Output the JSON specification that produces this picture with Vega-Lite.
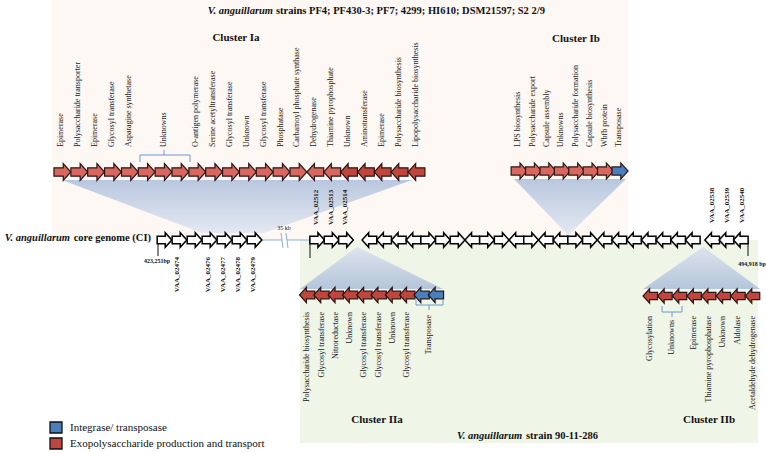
{
  "$schema": "https://vega.github.io/schema/vega-lite/v6.json",
  "width": 766,
  "height": 453,
  "padding": 0,
  "autosize": {"type": "fit", "contains": "padding"},
  "background": "white",
  "config": {"view": {"stroke": null}},
  "datasets": {
    "panels": [
      {"panel": "top", "x": 52, "x2": 628, "y": 0, "y2": 240},
      {"panel": "bottom", "x": 300, "x2": 758, "y": 240, "y2": 443}
    ],
    "funnels": [
      {"poly": "Ia", "dir": "down", "y": 180, "x": 62, "x2": 412},
      {"poly": "Ia", "dir": "down", "y": 233, "x": 202, "x2": 264},
      {"poly": "Ib", "dir": "down", "y": 179, "x": 514, "x2": 626},
      {"poly": "Ib", "dir": "down", "y": 235, "x": 568, "x2": 568.5},
      {"poly": "IIa", "dir": "up", "y": 247, "x": 357, "x2": 357.5},
      {"poly": "IIa", "dir": "up", "y": 289, "x": 300, "x2": 443},
      {"poly": "IIb", "dir": "up", "y": 247, "x": 703, "x2": 703.5},
      {"poly": "IIb", "dir": "up", "y": 289, "x": 643, "x2": 760}
    ],
    "lines": [
      {"kind": "bracket", "x": 140, "x2": 190, "y": 155, "y2": 155},
      {"kind": "bracket", "x": 140, "x2": 140, "y": 155, "y2": 162},
      {"kind": "bracket", "x": 190, "x2": 190, "y": 155, "y2": 162},
      {"kind": "bracket", "x": 164, "x2": 164, "y": 150, "y2": 155},
      {"kind": "bracket", "x": 416, "x2": 443, "y": 305, "y2": 305},
      {"kind": "bracket", "x": 416, "x2": 416, "y": 300, "y2": 305},
      {"kind": "bracket", "x": 443, "x2": 443, "y": 300, "y2": 305},
      {"kind": "bracket", "x": 429, "x2": 429, "y": 305, "y2": 310},
      {"kind": "bracket", "x": 662, "x2": 682, "y": 312, "y2": 312},
      {"kind": "bracket", "x": 662, "x2": 662, "y": 306, "y2": 312},
      {"kind": "bracket", "x": 682, "x2": 682, "y": 306, "y2": 312},
      {"kind": "bracket", "x": 672, "x2": 672, "y": 312, "y2": 317},
      {"kind": "break", "x": 262, "x2": 282, "y": 240, "y2": 240},
      {"kind": "break", "x": 287, "x2": 310, "y": 240, "y2": 240},
      {"kind": "break", "x": 281, "x2": 283, "y": 233, "y2": 248},
      {"kind": "break", "x": 286, "x2": 288, "y": 233, "y2": 248},
      {"kind": "tick", "x": 158, "x2": 158, "y": 240, "y2": 256},
      {"kind": "tick", "x": 310, "x2": 310, "y": 240, "y2": 258},
      {"kind": "tick", "x": 748, "x2": 748, "y": 240, "y2": 256}
    ],
    "genes": [
      {"track": "Ia", "x": 62.4, "y": 172, "dir": "R", "type": "light"},
      {"track": "Ia", "x": 79.3, "y": 172, "dir": "R", "type": "light"},
      {"track": "Ia", "x": 96.1, "y": 172, "dir": "R", "type": "light"},
      {"track": "Ia", "x": 113.0, "y": 172, "dir": "R", "type": "light"},
      {"track": "Ia", "x": 129.9, "y": 172, "dir": "R", "type": "light"},
      {"track": "Ia", "x": 146.7, "y": 172, "dir": "R", "type": "light"},
      {"track": "Ia", "x": 163.6, "y": 172, "dir": "R", "type": "light"},
      {"track": "Ia", "x": 180.4, "y": 172, "dir": "R", "type": "light"},
      {"track": "Ia", "x": 197.3, "y": 172, "dir": "R", "type": "light"},
      {"track": "Ia", "x": 214.1, "y": 172, "dir": "R", "type": "light"},
      {"track": "Ia", "x": 231.0, "y": 172, "dir": "R", "type": "light"},
      {"track": "Ia", "x": 247.9, "y": 172, "dir": "R", "type": "light"},
      {"track": "Ia", "x": 264.7, "y": 172, "dir": "R", "type": "light"},
      {"track": "Ia", "x": 281.6, "y": 172, "dir": "R", "type": "light"},
      {"track": "Ia", "x": 298.4, "y": 172, "dir": "R", "type": "light"},
      {"track": "Ia", "x": 315.3, "y": 172, "dir": "L", "type": "light"},
      {"track": "Ia", "x": 332.2, "y": 172, "dir": "L", "type": "light"},
      {"track": "Ia", "x": 349.0, "y": 172, "dir": "L", "type": "dark"},
      {"track": "Ia", "x": 365.9, "y": 172, "dir": "L", "type": "dark"},
      {"track": "Ia", "x": 382.7, "y": 172, "dir": "L", "type": "dark"},
      {"track": "Ia", "x": 399.6, "y": 172, "dir": "L", "type": "dark"},
      {"track": "Ia", "x": 416.5, "y": 172, "dir": "L", "type": "dark"},
      {"track": "Ib", "x": 519.2, "y": 171, "dir": "R", "type": "light"},
      {"track": "Ib", "x": 533.6, "y": 171, "dir": "R", "type": "light"},
      {"track": "Ib", "x": 548.0, "y": 171, "dir": "R", "type": "light"},
      {"track": "Ib", "x": 562.4, "y": 171, "dir": "R", "type": "light"},
      {"track": "Ib", "x": 576.8, "y": 171, "dir": "R", "type": "light"},
      {"track": "Ib", "x": 591.2, "y": 171, "dir": "R", "type": "light"},
      {"track": "Ib", "x": 605.6, "y": 171, "dir": "R", "type": "light"},
      {"track": "Ib", "x": 620.0, "y": 171, "dir": "R", "type": "blue"},
      {"track": "core", "x": 164.5, "y": 240, "dir": "R", "type": "core"},
      {"track": "core", "x": 179.5, "y": 240, "dir": "R", "type": "core"},
      {"track": "core", "x": 194.5, "y": 240, "dir": "R", "type": "core"},
      {"track": "core", "x": 209.5, "y": 240, "dir": "R", "type": "core"},
      {"track": "core", "x": 224.5, "y": 240, "dir": "R", "type": "core"},
      {"track": "core", "x": 239.5, "y": 240, "dir": "R", "type": "core"},
      {"track": "core", "x": 254.5, "y": 240, "dir": "R", "type": "core"},
      {"track": "core", "x": 317.2, "y": 240, "dir": "R", "type": "core"},
      {"track": "core", "x": 331.6, "y": 240, "dir": "R", "type": "core"},
      {"track": "core", "x": 346.0, "y": 240, "dir": "R", "type": "core"},
      {"track": "core", "x": 369.4, "y": 240, "dir": "L", "type": "core"},
      {"track": "core", "x": 384.1, "y": 240, "dir": "L", "type": "core"},
      {"track": "core", "x": 398.8, "y": 240, "dir": "L", "type": "core"},
      {"track": "core", "x": 413.5, "y": 240, "dir": "L", "type": "core"},
      {"track": "core", "x": 428.2, "y": 240, "dir": "R", "type": "core"},
      {"track": "core", "x": 442.9, "y": 240, "dir": "R", "type": "core"},
      {"track": "core", "x": 457.6, "y": 240, "dir": "R", "type": "core"},
      {"track": "core", "x": 472.3, "y": 240, "dir": "L", "type": "core"},
      {"track": "core", "x": 487.0, "y": 240, "dir": "R", "type": "core"},
      {"track": "core", "x": 501.7, "y": 240, "dir": "R", "type": "core"},
      {"track": "core", "x": 516.4, "y": 240, "dir": "L", "type": "core"},
      {"track": "core", "x": 531.1, "y": 240, "dir": "R", "type": "core"},
      {"track": "core", "x": 545.8, "y": 240, "dir": "L", "type": "core"},
      {"track": "core", "x": 560.5, "y": 240, "dir": "L", "type": "core"},
      {"track": "core", "x": 575.2, "y": 240, "dir": "R", "type": "core"},
      {"track": "core", "x": 589.9, "y": 240, "dir": "R", "type": "core"},
      {"track": "core", "x": 604.6, "y": 240, "dir": "L", "type": "core"},
      {"track": "core", "x": 619.3, "y": 240, "dir": "L", "type": "core"},
      {"track": "core", "x": 634.0, "y": 240, "dir": "L", "type": "core"},
      {"track": "core", "x": 648.7, "y": 240, "dir": "L", "type": "core"},
      {"track": "core", "x": 663.4, "y": 240, "dir": "L", "type": "core"},
      {"track": "core", "x": 678.1, "y": 240, "dir": "L", "type": "core"},
      {"track": "core", "x": 692.8, "y": 240, "dir": "L", "type": "core"},
      {"track": "core", "x": 712.2, "y": 240, "dir": "L", "type": "core"},
      {"track": "core", "x": 726.5, "y": 240, "dir": "L", "type": "core"},
      {"track": "core", "x": 740.8, "y": 240, "dir": "L", "type": "core"},
      {"track": "IIa", "x": 307.2, "y": 295, "dir": "L", "type": "dark"},
      {"track": "IIa", "x": 321.5, "y": 295, "dir": "L", "type": "dark"},
      {"track": "IIa", "x": 335.8, "y": 295, "dir": "L", "type": "dark"},
      {"track": "IIa", "x": 350.1, "y": 295, "dir": "L", "type": "dark"},
      {"track": "IIa", "x": 364.4, "y": 295, "dir": "L", "type": "dark"},
      {"track": "IIa", "x": 378.7, "y": 295, "dir": "L", "type": "dark"},
      {"track": "IIa", "x": 393.0, "y": 295, "dir": "L", "type": "dark"},
      {"track": "IIa", "x": 407.3, "y": 295, "dir": "L", "type": "dark"},
      {"track": "IIa", "x": 421.6, "y": 295, "dir": "L", "type": "blue"},
      {"track": "IIa", "x": 435.9, "y": 295, "dir": "L", "type": "blue"},
      {"track": "IIb", "x": 650.3, "y": 296, "dir": "L", "type": "dark"},
      {"track": "IIb", "x": 664.9, "y": 296, "dir": "L", "type": "dark"},
      {"track": "IIb", "x": 679.5, "y": 296, "dir": "L", "type": "dark"},
      {"track": "IIb", "x": 694.1, "y": 296, "dir": "L", "type": "dark"},
      {"track": "IIb", "x": 708.7, "y": 296, "dir": "L", "type": "dark"},
      {"track": "IIb", "x": 723.3, "y": 296, "dir": "L", "type": "dark"},
      {"track": "IIb", "x": 737.9, "y": 296, "dir": "L", "type": "dark"},
      {"track": "IIb", "x": 752.5, "y": 296, "dir": "L", "type": "dark"}
    ],
    "legendboxes": [
      {"x": 50, "x2": 62, "y": 422, "y2": 433, "type": "blue"},
      {"x": 50, "x2": 62, "y": 438, "y2": 449, "type": "dark"}
    ],
    "labels": [
      {"pos": "up", "x": 61.4, "y": 147, "label": "Epimerase"},
      {"pos": "up", "x": 78.3, "y": 147, "label": "Polysaccharide transporter"},
      {"pos": "up", "x": 95.1, "y": 147, "label": "Epimerase"},
      {"pos": "up", "x": 112.0, "y": 147, "label": "Glycosyl transferase"},
      {"pos": "up", "x": 128.9, "y": 147, "label": "Asparagine synthetase"},
      {"pos": "up", "x": 163.6, "y": 147, "label": "Unknowns"},
      {"pos": "up", "x": 196.3, "y": 147, "label": "O-antigen polymerase"},
      {"pos": "up", "x": 213.1, "y": 147, "label": "Serine acetyltransferase"},
      {"pos": "up", "x": 230.0, "y": 147, "label": "Glycosyl transferase"},
      {"pos": "up", "x": 246.9, "y": 147, "label": "Unknown"},
      {"pos": "up", "x": 263.7, "y": 147, "label": "Glycosyl transferase"},
      {"pos": "up", "x": 280.6, "y": 147, "label": "Phosphatase"},
      {"pos": "up", "x": 297.4, "y": 147, "label": "Carbamoyl phosphate synthase"},
      {"pos": "up", "x": 314.3, "y": 147, "label": "Dehydrogenase"},
      {"pos": "up", "x": 331.2, "y": 147, "label": "Thiamine pyrophosphate"},
      {"pos": "up", "x": 348.0, "y": 147, "label": "Unknown"},
      {"pos": "up", "x": 364.9, "y": 147, "label": "Aminotransferase"},
      {"pos": "up", "x": 381.7, "y": 147, "label": "Epimerase"},
      {"pos": "up", "x": 398.6, "y": 147, "label": "Polysaccharide biosynthesis"},
      {"pos": "up", "x": 415.5, "y": 147, "label": "Lipopolysaccharide biosynthesis"},
      {"pos": "up", "x": 518.2, "y": 147, "label": "LPS biosynthesis"},
      {"pos": "up", "x": 532.6, "y": 147, "label": "Polysaccharide export"},
      {"pos": "up", "x": 547.0, "y": 147, "label": "Capsule assembly"},
      {"pos": "up", "x": 561.4, "y": 147, "label": "Unknowns"},
      {"pos": "up", "x": 575.8, "y": 147, "label": "Polysaccharide formation"},
      {"pos": "up", "x": 590.2, "y": 147, "label": "Capsule biosynthesis"},
      {"pos": "up", "x": 604.6, "y": 147, "label": "Wbfb protein"},
      {"pos": "up", "x": 619.0, "y": 147, "label": "Transposase"},
      {"pos": "down", "x": 307.2, "y": 312, "label": "Polysaccharide biosynthesis"},
      {"pos": "down", "x": 321.5, "y": 312, "label": "Glycosyl transferase"},
      {"pos": "down", "x": 335.8, "y": 312, "label": "Nitroreductase"},
      {"pos": "down", "x": 350.1, "y": 312, "label": "Unknown"},
      {"pos": "down", "x": 364.4, "y": 312, "label": "Glycosyl transferase"},
      {"pos": "down", "x": 378.7, "y": 312, "label": "Glycosyl transferase"},
      {"pos": "down", "x": 393.0, "y": 312, "label": "Unknown"},
      {"pos": "down", "x": 407.3, "y": 312, "label": "Glycosyl transferase"},
      {"pos": "down", "x": 429.0, "y": 315, "label": "Transposase"},
      {"pos": "down", "x": 650.3, "y": 316, "label": "Glycosylation"},
      {"pos": "down", "x": 672.2, "y": 320, "label": "Unknowns"},
      {"pos": "down", "x": 694.1, "y": 316, "label": "Epimerase"},
      {"pos": "down", "x": 708.7, "y": 316, "label": "Thiamine pyrophosphatase"},
      {"pos": "down", "x": 723.3, "y": 316, "label": "Unknown"},
      {"pos": "down", "x": 737.9, "y": 316, "label": "Aldolase"},
      {"pos": "down", "x": 752.5, "y": 316, "label": "Acetaldehyde dehydrogenase"},
      {"pos": "vaaup", "x": 316.2, "y": 225, "label": "VAA_02512"},
      {"pos": "vaaup", "x": 330.6, "y": 225, "label": "VAA_02513"},
      {"pos": "vaaup", "x": 345.0, "y": 225, "label": "VAA_02514"},
      {"pos": "vaaup", "x": 712.0, "y": 223, "label": "VAA_02538"},
      {"pos": "vaaup", "x": 727.0, "y": 223, "label": "VAA_02539"},
      {"pos": "vaaup", "x": 741.5, "y": 223, "label": "VAA_02540"},
      {"pos": "vaadown", "x": 177.0, "y": 257, "label": "VAA_02474"},
      {"pos": "vaadown", "x": 207.5, "y": 257, "label": "VAA_02476"},
      {"pos": "vaadown", "x": 222.5, "y": 257, "label": "VAA_02477"},
      {"pos": "vaadown", "x": 237.5, "y": 257, "label": "VAA_02478"},
      {"pos": "vaadown", "x": 252.5, "y": 257, "label": "VAA_02479"}
    ],
    "texts": [
      {"style": "title_it", "x": 273, "y": 11, "text": "V. anguillarum"},
      {"style": "title", "x": 276, "y": 11, "text": "strains PF4; PF430-3; PF7; 4299; HI610; DSM21597; S2 2/9"},
      {"style": "head", "x": 236, "y": 38, "text": "Cluster Ia"},
      {"style": "head", "x": 576, "y": 39, "text": "Cluster Ib"},
      {"style": "head", "x": 377, "y": 420, "text": "Cluster IIa"},
      {"style": "head", "x": 709, "y": 420, "text": "Cluster IIb"},
      {"style": "title_it", "x": 70, "y": 238, "text": "V. anguillarum"},
      {"style": "right", "x": 151, "y": 238, "text": "core genome (CI)"},
      {"style": "left_it", "x": 457, "y": 436, "text": "V. anguillarum"},
      {"style": "left", "x": 526, "y": 436, "text": "strain 90-11-286"},
      {"style": "bp", "x": 157, "y": 261, "text": "423,251bp"},
      {"style": "bp", "x": 752, "y": 264, "text": "494,918 bp"},
      {"style": "small", "x": 284, "y": 228, "text": "35 kb"},
      {"style": "legend", "x": 70, "y": 428, "text": "Integrase/ transposase"},
      {"style": "legend", "x": 70, "y": 444, "text": "Exopolysaccharide production and transport"}
    ]
  },
  "encoding": {
    "x": {"field": "x", "type": "quantitative", "scale": {"domain": [0, 766], "nice": false, "zero": false}, "axis": null},
    "y": {"field": "y", "type": "quantitative", "scale": {"domain": [0, 453], "reverse": true, "nice": false, "zero": false}, "axis": null}
  },
  "layer": [
    {
      "data": {"name": "panels"},
      "transform": [{"filter": "datum.panel === 'top'"}],
      "mark": {"type": "rect", "fill": "#fdf8f3"},
      "encoding": {"x2": {"field": "x2"}, "y2": {"field": "y2"}}
    },
    {
      "data": {"name": "panels"},
      "transform": [{"filter": "datum.panel === 'bottom'"}],
      "mark": {"type": "rect", "fill": "#eff5e7"},
      "encoding": {"x2": {"field": "x2"}, "y2": {"field": "y2"}}
    },
    {
      "data": {"name": "funnels"},
      "transform": [{"filter": "datum.dir === 'down'"}],
      "mark": {
        "type": "area",
        "orient": "horizontal",
        "fill": {"gradient": "linear", "x1": 0, "y1": 0, "x2": 0, "y2": 1,
          "stops": [{"offset": 0, "color": "#b9c7de"}, {"offset": 1, "color": "#e4e9f2"}]}
      },
      "encoding": {"x2": {"field": "x2"}, "detail": {"field": "poly"}}
    },
    {
      "data": {"name": "funnels"},
      "transform": [{"filter": "datum.dir === 'up'"}],
      "mark": {
        "type": "area",
        "orient": "horizontal",
        "fill": {"gradient": "linear", "x1": 0, "y1": 0, "x2": 0, "y2": 1,
          "stops": [{"offset": 0, "color": "#dde4ee"}, {"offset": 1, "color": "#b5c5da"}]}
      },
      "encoding": {"x2": {"field": "x2"}, "detail": {"field": "poly"}}
    },
    {
      "data": {"name": "lines"},
      "mark": {"type": "rule", "strokeWidth": 1},
      "encoding": {
        "x2": {"field": "x2"},
        "y2": {"field": "y2"},
        "stroke": {"field": "kind", "type": "nominal", "scale": {"domain": ["bracket", "break", "tick"], "range": ["#6d98cf", "#8bb0da", "#111111"]}, "legend": null}
      }
    },
    {
      "data": {"name": "genes"},
      "transform": [{"filter": "datum.track === 'core'"}],
      "mark": {"type": "point", "filled": true, "opacity": 1, "stroke": "#000000", "strokeWidth": 1.5, "size": 215},
      "encoding": {
        "shape": {"field": "dir", "type": "nominal", "scale": {"domain": ["R", "L"], "range": ["M-1,-0.5L0.1,-0.5L0.1,-1L1,0L0.1,1L0.1,0.5L-1,0.5Z", "M1,-0.5L-0.1,-0.5L-0.1,-1L-1,0L-0.1,1L-0.1,0.5L1,0.5Z"]}, "legend": null},
        "fill": {"field": "type", "type": "nominal", "scale": {"domain": ["light", "dark", "blue", "core"], "range": ["#d7675f", "#c0453d", "#4a7fbd", "#ffffff"]}, "legend": null}
      }
    },
    {
      "data": {"name": "genes"},
      "transform": [{"filter": "datum.track !== 'core'"}],
      "mark": {"type": "point", "filled": true, "opacity": 1, "stroke": "#2a1616", "strokeWidth": 1.2},
      "encoding": {
        "shape": {"field": "dir", "type": "nominal", "scale": {"domain": ["R", "L"], "range": ["M-1,-0.5L0.1,-0.5L0.1,-1L1,0L0.1,1L0.1,0.5L-1,0.5Z", "M1,-0.5L-0.1,-0.5L-0.1,-1L-1,0L-0.1,1L-0.1,0.5L1,0.5Z"]}, "legend": null},
        "fill": {"field": "type", "type": "nominal", "scale": {"domain": ["light", "dark", "blue", "core"], "range": ["#d7675f", "#c0453d", "#4a7fbd", "#ffffff"]}, "legend": null},
        "size": {"field": "track", "type": "ordinal", "scale": {"domain": ["Ia", "Ib", "IIa", "IIb"], "range": [284, 210, 204, 212]}, "legend": null}
      }
    },
    {
      "data": {"name": "legendboxes"},
      "mark": {"type": "rect", "stroke": "#111111", "strokeWidth": 1.3},
      "encoding": {
        "x2": {"field": "x2"},
        "y2": {"field": "y2"},
        "fill": {"field": "type", "type": "nominal", "scale": {"domain": ["light", "dark", "blue", "core"], "range": ["#d7675f", "#c0453d", "#4a7fbd", "#ffffff"]}, "legend": null}
      }
    },
    {
      "data": {"name": "labels"},
      "transform": [{"filter": "datum.pos === 'up'"}],
      "mark": {"type": "text", "angle": 270, "align": "left", "baseline": "middle", "font": "Liberation Serif", "fontSize": 8, "color": "#1a1a1a"},
      "encoding": {"text": {"field": "label"}}
    },
    {
      "data": {"name": "labels"},
      "transform": [{"filter": "datum.pos === 'down'"}],
      "mark": {"type": "text", "angle": 270, "align": "right", "baseline": "middle", "font": "Liberation Serif", "fontSize": 8, "color": "#1a1a1a"},
      "encoding": {"text": {"field": "label"}}
    },
    {
      "data": {"name": "labels"},
      "transform": [{"filter": "datum.pos === 'vaaup'"}],
      "mark": {"type": "text", "angle": 270, "align": "left", "baseline": "middle", "font": "Liberation Serif", "fontSize": 7, "fontWeight": "bold", "color": "#111111"},
      "encoding": {"text": {"field": "label"}}
    },
    {
      "data": {"name": "labels"},
      "transform": [{"filter": "datum.pos === 'vaadown'"}],
      "mark": {"type": "text", "angle": 270, "align": "right", "baseline": "middle", "font": "Liberation Serif", "fontSize": 7, "fontWeight": "bold", "color": "#111111"},
      "encoding": {"text": {"field": "label"}}
    },
    {
      "data": {"name": "texts"},
      "transform": [{"filter": "datum.style === 'title_it'"}],
      "mark": {"type": "text", "align": "right", "baseline": "middle", "font": "Liberation Serif", "fontSize": 10.5, "fontWeight": "bold", "fontStyle": "italic", "color": "#111111"},
      "encoding": {"text": {"field": "text"}}
    },
    {
      "data": {"name": "texts"},
      "transform": [{"filter": "datum.style === 'title' || datum.style === 'left'"}],
      "mark": {"type": "text", "align": "left", "baseline": "middle", "font": "Liberation Serif", "fontSize": 10.5, "fontWeight": "bold", "color": "#111111"},
      "encoding": {"text": {"field": "text"}}
    },
    {
      "data": {"name": "texts"},
      "transform": [{"filter": "datum.style === 'left_it'"}],
      "mark": {"type": "text", "align": "left", "baseline": "middle", "font": "Liberation Serif", "fontSize": 10.5, "fontWeight": "bold", "fontStyle": "italic", "color": "#111111"},
      "encoding": {"text": {"field": "text"}}
    },
    {
      "data": {"name": "texts"},
      "transform": [{"filter": "datum.style === 'right'"}],
      "mark": {"type": "text", "align": "right", "baseline": "middle", "font": "Liberation Serif", "fontSize": 10.5, "fontWeight": "bold", "color": "#111111"},
      "encoding": {"text": {"field": "text"}}
    },
    {
      "data": {"name": "texts"},
      "transform": [{"filter": "datum.style === 'head'"}],
      "mark": {"type": "text", "align": "center", "baseline": "middle", "font": "Liberation Serif", "fontSize": 11, "fontWeight": "bold", "color": "#111111"},
      "encoding": {"text": {"field": "text"}}
    },
    {
      "data": {"name": "texts"},
      "transform": [{"filter": "datum.style === 'bp'"}],
      "mark": {"type": "text", "align": "center", "baseline": "middle", "font": "Liberation Serif", "fontSize": 6, "fontWeight": "bold", "color": "#111111"},
      "encoding": {"text": {"field": "text"}}
    },
    {
      "data": {"name": "texts"},
      "transform": [{"filter": "datum.style === 'small'"}],
      "mark": {"type": "text", "align": "center", "baseline": "middle", "font": "Liberation Serif", "fontSize": 6, "color": "#111111"},
      "encoding": {"text": {"field": "text"}}
    },
    {
      "data": {"name": "texts"},
      "transform": [{"filter": "datum.style === 'legend'"}],
      "mark": {"type": "text", "align": "left", "baseline": "middle", "font": "Liberation Serif", "fontSize": 11, "color": "#111111"},
      "encoding": {"text": {"field": "text"}}
    }
  ]
}
